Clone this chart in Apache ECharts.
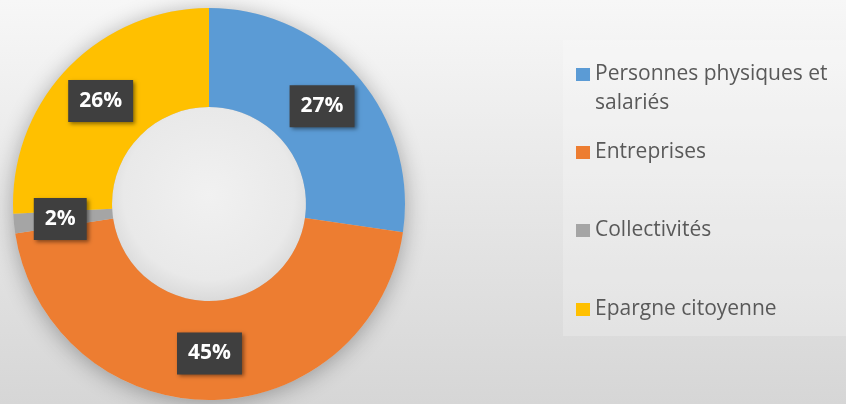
<!DOCTYPE html>
<html>
<head>
<meta charset="utf-8">
<style>html,body{margin:0;padding:0;}#chart{width:846px;height:404px;}</style>
<script src="https://cdn.jsdelivr.net/npm/echarts@6/dist/echarts.min.js"></script>
</head>
<body>
<div id="chart"></div>
<script>
var categories = ['Personnes physiques et salariés', 'Entreprises', 'Collectivités', 'Epargne citoyenne'];
var values = [27.3, 45.3, 1.6, 25.8];
var colors = ['#5b9bd5', '#ed7d31', '#a5a5a5', '#ffc000'];
var legendTops = [35, 142, 220, 299];

var chart = echarts.init(document.getElementById('chart'), null, {renderer: 'canvas'});
var cx = 209, cy = 204, rIn = 97, rOut = 196;

var legends = categories.map(function (name, i) {
  return {
    data: [name],
    orient: 'vertical',
    left: 576,
    top: legendTops[i],
    padding: 0,
    icon: 'rect',
    itemWidth: 14,
    itemHeight: 13,
    itemGap: 0,
    selectedMode: false,
    textStyle: {color: '#595959', fontFamily: 'Open Sans', fontSize: 21,
      rich: {s: {fontSize: 21, lineHeight: 29, fontFamily: 'Open Sans', color: '#595959'},
             t: {fontSize: 21, lineHeight: 29, fontFamily: 'Open Sans', color: '#595959'}}},
    formatter: function (n) {
      if (n === categories[0]) return '{s| }\n{t|Personnes physiques et}\n{t|salariés}';
      return '{t|' + n + '}';
    }
  };
});

chart.setOption({
  backgroundColor: {type: 'linear', x: 0, y: 0, x2: 0, y2: 1,
    colorStops: [{offset: 0, color: '#f7f7f7'}, {offset: 1, color: '#d6d6d6'}]},
  color: colors,
  animation: false,
  graphic: [
    {type: 'rect', z: 0, shape: {x: 563, y: 40, width: 283, height: 296},
      style: {fill: 'rgba(255,255,255,0.22)'}},
    {type: 'ring', z: 0, shape: {cx: cx, cy: cy, r: rOut, r0: rIn},
      style: {fill: '#cccccc', shadowBlur: 22, shadowColor: 'rgba(0,0,0,0.3)', shadowOffsetY: 3}},
    {type: 'circle', z: 0, shape: {cx: cx, cy: cy, r: rIn},
      style: {fill: {type: 'radial', x: 0.5, y: 0.45, r: 0.55,
        colorStops: [{offset: 0, color: '#f1f1f1'}, {offset: 0.8, color: '#e9e9e9'}, {offset: 1, color: '#dadada'}]}}}
  ],
  legend: legends,
  series: [{
    type: 'pie',
    center: [cx, cy],
    radius: [rIn, rOut],
    startAngle: 90,
    clockwise: true,
    avoidLabelOverlap: false,
    itemStyle: {borderWidth: 0},
    emphasis: {disabled: true},
    label: {
      show: true,
      position: 'inside',
      formatter: function (p) { return Math.round(p.percent) + '%'; },
      color: '#ffffff',
      fontFamily: 'Open Sans',
      fontWeight: 'bold',
      fontSize: 21,
      lineHeight: 22,
      backgroundColor: '#3f3f3f',
      padding: [10, 11, 10, 11],
      shadowBlur: 4,
      shadowColor: 'rgba(0,0,0,0.45)',
      shadowOffsetX: 2,
      shadowOffsetY: 2
    },
    labelLine: {show: false},
    data: categories.map(function (c, i) { return {name: c, value: values[i]}; })
  }]
});
</script>
</body>
</html>
